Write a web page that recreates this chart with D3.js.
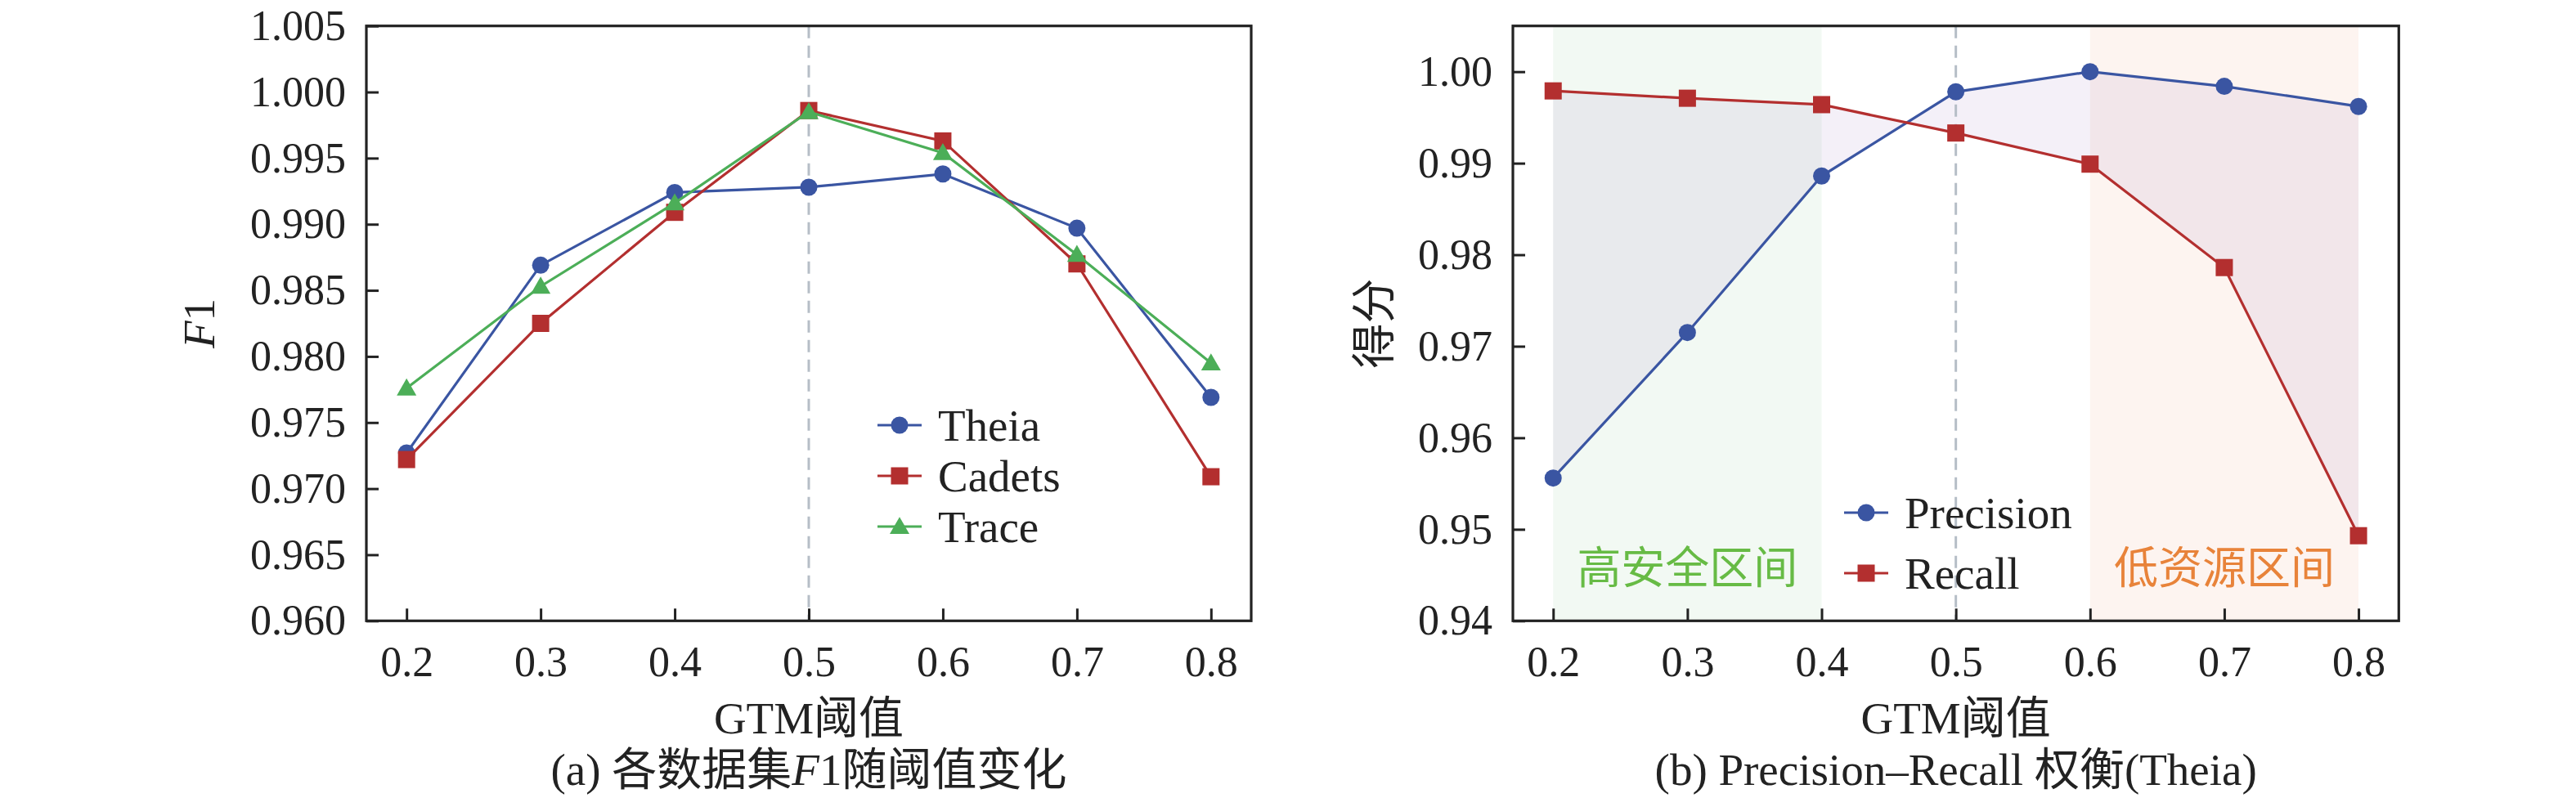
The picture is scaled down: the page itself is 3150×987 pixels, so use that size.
<!DOCTYPE html>
<html>
<head>
<meta charset="utf-8">
<script src="https://cdn.jsdelivr.net/npm/d3@7"></script>
<style>
  body { margin: 0; background: #fff; }
  text { font-family: "Liberation Serif", "Times New Roman", "Noto Sans CJK SC", serif; fill: #222; }
</style>
</head>
<body>
<svg id="chart" width="3150" height="987"></svg>
<script>
// data
const thresholds = [0.2, 0.3, 0.4, 0.5, 0.6, 0.7, 0.8];
const theiaF1  = [0.9727, 0.9869, 0.9924, 0.9928, 0.9938, 0.9897, 0.9769];
const cadetsF1 = [0.9722, 0.9825, 0.9909, 0.9986, 0.9963, 0.9870, 0.9709];
const traceF1  = [0.9776, 0.9853, 0.9916, 0.9985, 0.9954, 0.9877, 0.9795];
const precision = [0.9556, 0.9715, 0.9886, 0.9978, 1.0000, 0.9984, 0.9962];
const recall    = [0.9979, 0.9971, 0.9964, 0.9933, 0.9899, 0.9786, 0.9493];
const f1Ticks = [0.960, 0.965, 0.970, 0.975, 0.980, 0.985, 0.990, 0.995, 1.000, 1.005];
const scoreTicks = [0.94, 0.95, 0.96, 0.97, 0.98, 0.99, 1.00];
const seriesA = ["Theia", "Cadets", "Trace"];
const seriesB = ["Precision", "Recall"];
const zoneLabels = ["高安全区间", "低资源区间"];

const svg = d3.select("#chart");
const colors = { blue: "#3a55a2", red: "#b32f2f", green: "#4cae58" };

const plotTop = 31.7, plotBottom = 759.3;
const xDomain = [0.17, 0.83];

function frame(g, x, y, yTicks, yFmt) {
  const xa = d3.axisBottom(x).tickValues(thresholds).tickFormat(d3.format(".1f"))
    .tickSizeInner(-15).tickSizeOuter(0).tickPadding(31);
  const ya = d3.axisLeft(y).tickValues(yTicks).tickFormat(d3.format(yFmt))
    .tickSizeInner(-15).tickSizeOuter(0).tickPadding(25);
  const gx = g.append("g").attr("transform", `translate(0,${plotBottom})`).call(xa);
  const gy = g.append("g").attr("transform", `translate(${x.range()[0]},0)`).call(ya);
  [gx, gy].forEach(a => {
    a.select(".domain").remove();
    a.selectAll("line").attr("stroke", "#222").attr("stroke-width", 3);
    a.selectAll("text").attr("font-size", 52).attr("fill", "#222")
      .style("font-family", '"Liberation Serif", serif');
  });
  g.append("rect")
    .attr("x", x.range()[0]).attr("y", plotTop)
    .attr("width", x.range()[1] - x.range()[0]).attr("height", plotBottom - plotTop)
    .attr("fill", "none").attr("stroke", "#222").attr("stroke-width", 3.2);
}

function marker(g, kind, cx, cy, color) {
  if (kind === "circle") {
    g.append("circle").attr("cx", cx).attr("cy", cy).attr("r", 10.5).attr("fill", color);
  } else if (kind === "square") {
    g.append("rect").attr("x", cx - 10.5).attr("y", cy - 10.5)
      .attr("width", 21).attr("height", 21).attr("fill", color);
  } else {
    g.append("path").attr("d", d3.symbol(d3.symbolTriangle, 250)())
      .attr("transform", `translate(${cx},${cy + 2})`).attr("fill", color);
  }
}

function drawSeries(g, x, y, vals, kind, color) {
  const line = d3.line().x((d, i) => x(thresholds[i])).y(d => y(d));
  g.append("path").datum(vals).attr("d", line)
    .attr("fill", "none").attr("stroke", color).attr("stroke-width", 3.2);
  vals.forEach((v, i) => marker(g, kind, x(thresholds[i]), y(v), color));
}

function legend(g, names, kinds, cols, x0, y0, step) {
  names.forEach((n, i) => {
    const yy = y0 + i * step;
    g.append("line").attr("x1", x0 - 27).attr("x2", x0 + 27).attr("y1", yy).attr("y2", yy)
      .attr("stroke", cols[i]).attr("stroke-width", 3.2);
    marker(g, kinds[i], x0, yy, cols[i]);
    g.append("text").attr("x", x0 + 47).attr("y", yy).attr("dy", "0.34em")
      .attr("font-size", 55).text(n);
  });
}

function vline(g, x) {
  g.append("line").attr("x1", x(0.5)).attr("x2", x(0.5)).attr("y1", plotTop).attr("y2", plotBottom)
    .attr("stroke", "#b6bec7").attr("stroke-width", 3).attr("stroke-dasharray", "15 9");
}

// ---------- panel (a)
const xA = d3.scaleLinear().domain(xDomain).range([448, 1530]);
const yA = d3.scaleLinear().domain([0.96, 1.005]).range([plotBottom, plotTop]);
const gA = svg.append("g");
vline(gA, xA);
drawSeries(gA, xA, yA, theiaF1, "circle", colors.blue);
drawSeries(gA, xA, yA, cadetsF1, "square", colors.red);
drawSeries(gA, xA, yA, traceF1, "triangle", colors.green);
legend(gA, seriesA, ["circle", "square", "triangle"], [colors.blue, colors.red, colors.green], 1100, 520, 62);
frame(gA, xA, yA, f1Ticks, ".3f");

gA.append("text").attr("transform", `translate(243,${(plotTop + plotBottom) / 2}) rotate(-90)`)
  .attr("text-anchor", "middle").attr("dy", "0.35em").attr("font-size", 55)
  .html('<tspan font-style="italic">F</tspan>1');
gA.append("text").attr("x", (448 + 1530) / 2).attr("y", 897).attr("text-anchor", "middle")
  .attr("font-size", 55).text("GTM阈值");
gA.append("text").attr("x", (448 + 1530) / 2).attr("y", 960).attr("text-anchor", "middle")
  .attr("font-size", 55)
  .html('(a) 各数据集<tspan font-style="italic">F</tspan>1随阈值变化');

// ---------- panel (b)
const xB = d3.scaleLinear().domain(xDomain).range([1850, 2933.3]);
const yB = d3.scaleLinear().domain([0.94, 1.005]).range([plotBottom, plotTop]);
const gB = svg.append("g");

gB.append("rect").attr("x", xB(0.2)).attr("y", plotTop).attr("width", xB(0.4) - xB(0.2))
  .attr("height", plotBottom - plotTop).attr("fill", "#f2f9f3");
gB.append("rect").attr("x", xB(0.6)).attr("y", plotTop).attr("width", xB(0.8) - xB(0.6))
  .attr("height", plotBottom - plotTop).attr("fill", "#fdf4f0");

const gap = d3.area().x((d, i) => xB(thresholds[i]))
  .y0((d, i) => yB(recall[i])).y1(d => yB(d));
gB.append("path").datum(precision).attr("d", gap)
  .attr("fill", "#9467bd").attr("fill-opacity", 0.1);

vline(gB, xB);
drawSeries(gB, xB, yB, precision, "circle", colors.blue);
drawSeries(gB, xB, yB, recall, "square", colors.red);
legend(gB, seriesB, ["circle", "square"], [colors.blue, colors.red], 2282, 627, 74);

gB.append("text").attr("x", xB(0.3)).attr("y", yB(0.9458)).attr("dy", "0.36em")
  .attr("text-anchor", "middle").attr("font-size", 54).style("fill", "#67bb45")
  .text(zoneLabels[0]);
gB.append("text").attr("x", xB(0.7)).attr("y", yB(0.9458)).attr("dy", "0.36em")
  .attr("text-anchor", "middle").attr("font-size", 54).style("fill", "#e8833a")
  .text(zoneLabels[1]);

frame(gB, xB, yB, scoreTicks, ".2f");

gB.append("text").attr("transform", `translate(1680,${(plotTop + plotBottom) / 2}) rotate(-90)`)
  .attr("text-anchor", "middle").attr("dy", "0.35em").attr("font-size", 55).text("得分");
gB.append("text").attr("x", (1850 + 2933.3) / 2).attr("y", 897).attr("text-anchor", "middle")
  .attr("font-size", 55).text("GTM阈值");
gB.append("text").attr("x", (1850 + 2933.3) / 2).attr("y", 960).attr("text-anchor", "middle")
  .attr("font-size", 55).text("(b) Precision–Recall 权衡(Theia)");
</script>
</body>
</html>
